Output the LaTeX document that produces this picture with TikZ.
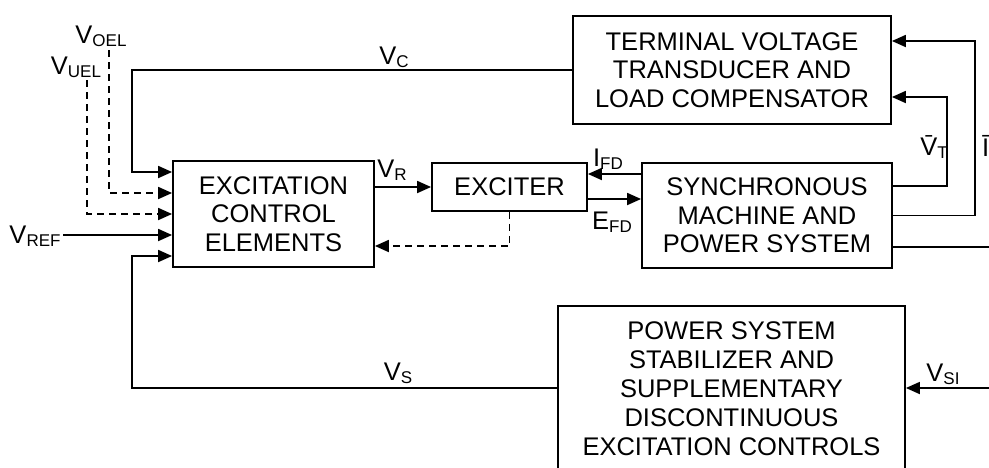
\documentclass[tikz,border=0pt]{standalone}
\usepackage{fontspec}
\setmainfont{Liberation Sans}
\usetikzlibrary{
    arrows.meta,
    positioning,
    calc,
}
\newcommand{\sig}[2]{#1\raisebox{-3pt}{\fontsize{17}{17}\selectfont #2}}
\tikzset{
    block/.style={draw, line width=1.8pt, align=center, inner sep=0pt,
        font=\fontsize{25.5}{28.5}\selectfont},
    wire/.style={line width=1.8pt},
    feed/.style={wire, -{Triangle[length=14pt,width=12pt]}},
    aux/.style={feed, dash pattern=on 7pt off 5pt},
    lbl/.style={inner sep=0pt, font=\fontsize{25.5}{25.5}\selectfont},
}

\begin{document}
\begin{tikzpicture}[x=1pt, y=-1pt]
        \useasboundingbox (0,0) rectangle (989,467);

        \node[block, minimum width=201pt, minimum height=106pt] (ece) at (273.5,214) {EXCITATION\\CONTROL\\ELEMENTS};
        \node[block, minimum width=155pt, minimum height=48pt] (exc) at (509.5,187) {EXCITER};
        \node[block, minimum width=318pt, minimum height=108pt] (tvt) at (732,70) {TERMINAL VOLTAGE\\TRANSDUCER AND\\LOAD COMPENSATOR};
        \node[block, minimum width=250pt, minimum height=105pt] (sms) at (767,215.5) {SYNCHRONOUS\\MACHINE AND\\POWER SYSTEM};
        \node[block, minimum width=347pt, minimum height=166pt, font=\fontsize{25.5}{29}\selectfont] (pss) at (731.5,389) {POWER SYSTEM\\STABILIZER AND\\SUPPLEMENTARY\\DISCONTINUOUS\\EXCITATION CONTROLS};

        \coordinate (oel) at (109,50);
        \coordinate (uel) at (87,80);
        \coordinate (ref) at (63,235);
        \coordinate (ifd) at ([yshift=13pt]exc.east);
        \coordinate (efd) at ([yshift=-12pt]exc.east);
        \coordinate (sysout) at (995,247);
        \coordinate (siin) at (995,388);

        % inputs of the control elements
        \draw[feed] (tvt.west) -| ([xshift=-40pt,yshift=42pt]ece.west) -- ([yshift=42pt]ece.west);
        \draw[aux] (oel) |- ([yshift=21pt]ece.west);
        \draw[aux] (uel) |- (ece.west);
        \draw[feed] (ref) -- (ece.west |- ref);
        \draw[feed] ([yshift=1pt]pss.west) -| ([xshift=-40pt,yshift=-42pt]ece.west) -- ([yshift=-42pt]ece.west);

        \draw[feed] (ece.east |- exc.west) -- (exc.west);
        \draw[aux] (exc.south) |- ([yshift=-32pt]ece.east);
        \draw[feed] (sms.west |- ifd) -- (ifd);
        \draw[feed] (efd) -- (sms.west |- efd);

        % feedback to the transducer
        \draw[feed] ([yshift=29.5pt]sms.east) -| ([xshift=55pt,yshift=-27pt]tvt.east) -- ([yshift=-27pt]tvt.east);
        \draw[feed] (sms.east) -| ([xshift=83pt,yshift=29pt]tvt.east) -- ([yshift=29pt]tvt.east);
        \draw[wire] (sms.east |- sysout) -- (sysout);
        \draw[feed] (siin) -- (pss.east |- siin);

        \node[lbl] (vc) at (394,57) {\sig{V}{C}};
        \node[lbl] (voel) at (101,36) {\sig{V}{OEL}};
        \node[lbl] (vuel) at (76,67) {\sig{V}{UEL}};
        \node[lbl] (vref) at (35,236) {\sig{V}{REF}};
        \node[lbl] (vr) at (392,170) {\sig{V}{R}};
        \node[lbl] (ifdl) at (608,159) {\sig{I}{FD}};
        \node[lbl] (efdl) at (612,222) {\sig{E}{FD}};
        \node[lbl] (vt) at (934,147) {\sig{\={V}}{T}};
        \node[lbl, anchor=west] (it) at (982,147) {\sig{\={I}}{T}};
        \node[lbl] (vs) at (398,373) {\sig{V}{S}};
        \node[lbl] (vsi) at (943,374) {\sig{V}{SI}};
    \end{tikzpicture}
\end{document}
